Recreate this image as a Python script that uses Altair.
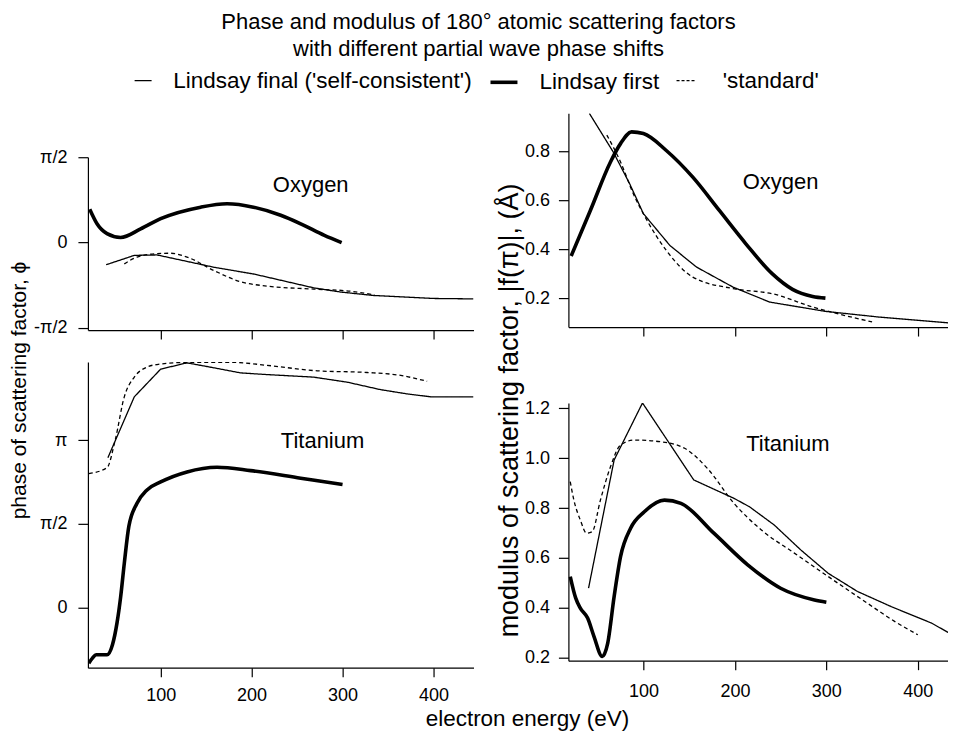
import altair as alt
import pandas as pd

FONT = "Liberation Sans"
SERIES = ["Lindsay final ('self-consistent')", "Lindsay first", "'standard'"]

TITLE_LINES = ["Phase and modulus of 180° atomic scattering factors",
               "with different partial wave  phase shifts"]
X_TITLE = "electron energy (eV)"
PHASE_TITLE = "phase of scattering factor, ϕ"
MOD_TITLE = "modulus of scattering factor, |f(π)|, (Å)"
X_TICKS = [100, 200, 300, 400]

# ---------------- Oxygen, phase (in units of pi/2) ----------------
O_PH_FINAL_E = [40, 71, 96, 159, 203, 268, 298, 334, 400, 444]
O_PH_FINAL_V = [-0.26, -0.15, -0.145, -0.29, -0.37, -0.53, -0.58, -0.62, -0.655, -0.66]
O_PH_FIRST_E = [22, 30, 41, 56, 78, 100, 144, 173, 202, 232, 254, 280, 299]
O_PH_FIRST_V = [0.39, 0.22, 0.105, 0.06, 0.16, 0.28, 0.415, 0.455, 0.415, 0.32, 0.22, 0.085, 0.0]
O_PH_STD_E = [60, 74, 96, 111, 129, 159, 188, 217, 268, 309, 335]
O_PH_STD_V = [-0.25, -0.17, -0.13, -0.125, -0.17, -0.33, -0.46, -0.51, -0.545, -0.57, -0.615]

# ---------------- Titanium, phase (in units of pi/2) ----------------
TI_PH_FINAL_E = [42, 71, 100, 129, 159, 188, 217, 268, 305, 342, 371, 397, 444]
TI_PH_FINAL_V = [1.79, 2.515, 2.845, 2.92, 2.86, 2.8, 2.78, 2.75, 2.69, 2.6, 2.55, 2.515, 2.515]
TI_PH_FIRST_E = [21, 25, 29, 41, 47, 52, 56, 60, 65, 74, 85, 100, 129, 162, 199, 254, 300]
TI_PH_FIRST_V = [-0.66, -0.6, -0.56, -0.56, -0.44, -0.18, 0.13, 0.53, 0.97, 1.245, 1.405,
                 1.5, 1.62, 1.675, 1.635, 1.545, 1.47]
TI_PH_STD_E = [21, 41, 50, 60, 71, 85, 96, 129, 180, 217, 272, 327, 364, 393]
TI_PH_STD_V = [1.6, 1.67, 2.0, 2.515, 2.75, 2.87, 2.9, 2.925, 2.925, 2.89, 2.825, 2.805, 2.77, 2.7]

# ---------------- Oxygen, modulus (Angstrom) ----------------
O_MOD_FINAL_E = [41, 67, 85, 100, 129, 158, 198, 238, 299, 357, 440]
O_MOD_FINAL_V = [0.955, 0.798, 0.668, 0.546, 0.416, 0.328, 0.246, 0.185, 0.147, 0.124, 0.098]
O_MOD_FIRST_E = [21, 42, 64, 75, 87, 100, 125, 154, 183, 212, 241, 263, 285, 299]
O_MOD_FIRST_V = [0.373, 0.559, 0.757, 0.832, 0.88, 0.873, 0.804, 0.695, 0.559, 0.423,
                 0.30, 0.237, 0.208, 0.201]
O_MOD_STD_E = [60, 75, 89, 104, 125, 154, 198, 241, 285, 350]
O_MOD_STD_V = [0.867, 0.757, 0.627, 0.518, 0.396, 0.287, 0.24, 0.219, 0.165, 0.104]

# ---------------- Titanium, modulus (Angstrom) ----------------
TI_MOD_FINAL_E = [40, 68, 99, 155, 199, 216, 243, 272, 302, 334, 371, 415, 444]
TI_MOD_FINAL_V = [0.478, 0.993, 1.222, 0.913, 0.839, 0.805, 0.732, 0.632, 0.538, 0.465,
                  0.404, 0.338, 0.278]
TI_MOD_FIRST_E = [20, 26, 31, 39, 46, 55, 61, 68, 75, 86, 101, 123, 141, 177, 214, 250, 287, 300]
TI_MOD_FIRST_V = [0.525, 0.438, 0.398, 0.358, 0.284, 0.204, 0.258, 0.445, 0.605, 0.719,
                  0.785, 0.832, 0.819, 0.699, 0.572, 0.478, 0.431, 0.422]
TI_MOD_STD_E = [20, 24, 31, 38, 44, 53, 64, 75, 90, 119, 145, 170, 199, 229, 265, 302, 342, 375, 400]
TI_MOD_STD_V = [0.906, 0.832, 0.752, 0.699, 0.705, 0.832, 0.966, 1.053, 1.073, 1.066, 1.04,
                0.959, 0.819, 0.712, 0.619, 0.525, 0.425, 0.344, 0.291]

# panel labels: (text, energy, value)
LABEL_O_PH = ("Oxygen", 265, 0.67)
LABEL_TI_PH = ("Titanium", 278, 1.99)
LABEL_O_MOD = ("Oxygen", 250, 0.675)
LABEL_TI_MOD = ("Titanium", 258, 1.057)


def long_df(final_e, final_v, first_e, first_v, std_e, std_v):
    rows = []
    for name, es, vs in [(SERIES[0], final_e, final_v), (SERIES[1], first_e, first_v),
                         (SERIES[2], std_e, std_v)]:
        for e, v in zip(es, vs):
            rows.append({"E": e, "v": v, "series": name})
    return pd.DataFrame(rows)


def legend(x, y, **kw):
    return alt.Legend(orient="none", legendX=x, legendY=y, title=None,
                      labelFont=FONT, labelFontSize=22.5, labelColor="black", labelLimit=500,
                      symbolType="stroke", symbolStrokeColor="black", **kw)


# one legend entry per line style (thin solid, thick solid, thin dashed)
ENC_FINAL = alt.StrokeDash("series:N", scale=alt.Scale(domain=[SERIES[0]], range=[[1, 0]]),
                           legend=legend(44, -44, symbolSize=289, symbolStrokeWidth=1.3,
                                         labelOffset=19))
ENC_FIRST = alt.StrokeWidth("series:N", scale=alt.Scale(domain=[SERIES[1]], range=[3.6, 3.6]),
                            legend=legend(401, -46.5, symbolSize=729, labelOffset=20))
ENC_STD = alt.Opacity("series:N", scale=alt.Scale(domain=[SERIES[2]], range=[1, 1]),
                      legend=legend(588, -44, symbolSize=400, symbolStrokeWidth=1.3,
                                    symbolDash=[3, 2], labelOffset=25))

PHASE_EXPR = ("datum.value == 1 ? 'π/2' : datum.value == 2 ? 'π' : "
              "datum.value == -1 ? '-π/2' : '0'")


def panel(df, label, xdom, ydom, xaxis, yaxis, width, height):
    X = alt.X("E:Q", scale=alt.Scale(domain=xdom, nice=False, zero=False), axis=xaxis)
    Y = alt.Y("v:Q", scale=alt.Scale(domain=ydom, nice=False, zero=False), axis=yaxis)
    final = (alt.Chart(df).transform_filter(alt.datum.series == SERIES[0])
             .mark_line(color="black", strokeWidth=1.3, clip=True)
             .encode(x=X, y=Y, strokeDash=ENC_FINAL))
    first = (alt.Chart(df).transform_filter(alt.datum.series == SERIES[1])
             .mark_line(color="black", interpolate="monotone", clip=True)
             .encode(x=X, y=Y, strokeWidth=ENC_FIRST))
    std = (alt.Chart(df).transform_filter(alt.datum.series == SERIES[2])
           .mark_line(color="black", strokeWidth=1.3, strokeDash=[4, 3],
                      interpolate="monotone", clip=True)
           .encode(x=X, y=Y, opacity=ENC_STD))
    lab_df = pd.DataFrame({"t": [label[0]], "E": [label[1]], "v": [label[2]]})
    text = (alt.Chart(lab_df).mark_text(font=FONT, fontSize=22, color="black")
            .encode(x=X, y=Y, text="t:N"))
    return alt.layer(final, first, std, text).properties(width=width, height=height)


LEFT_XDOM = [20, 444]
RIGHT_XDOM = [18, 433]

x_top_left = alt.Axis(values=X_TICKS, labels=False, title=None)
x_bot_left = alt.Axis(values=X_TICKS, title=None, labelPadding=10)
x_top_right = alt.Axis(values=X_TICKS, labels=False, title=None)
x_bot_right = alt.Axis(values=X_TICKS, title=None, labelPadding=13)

y_tl = alt.Axis(values=[-1, 0, 1], labelExpr=PHASE_EXPR, title=None, labelPadding=11)
y_bl = alt.Axis(values=[0, 1, 2], labelExpr=PHASE_EXPR, title=PHASE_TITLE,
                titleX=-58, titleY=28, titleFontSize=21, titleAngle=270,
                titleBaseline="bottom", titleAlign="center", labelPadding=11)
y_tr = alt.Axis(values=[0.2, 0.4, 0.6, 0.8], format=".1f", title=None, labelPadding=9)
y_br = alt.Axis(values=[0.2, 0.4, 0.6, 0.8, 1.0, 1.2], format=".1f", title=MOD_TITLE,
                titleX=-45, titleY=7, titleFontSize=27, titleAngle=270,
                titleBaseline="bottom", titleAlign="center", labelPadding=9)

tl = panel(long_df(O_PH_FINAL_E, O_PH_FINAL_V, O_PH_FIRST_E, O_PH_FIRST_V, O_PH_STD_E, O_PH_STD_V),
           LABEL_O_PH, LEFT_XDOM, [-1.025, 1.0], x_top_left, y_tl, 386, 173)
bl = panel(long_df(TI_PH_FINAL_E, TI_PH_FINAL_V, TI_PH_FIRST_E, TI_PH_FIRST_V, TI_PH_STD_E, TI_PH_STD_V),
           LABEL_TI_PH, LEFT_XDOM, [-0.714, 2.93], x_bot_left, y_bl, 386, 306)
tr = panel(long_df(O_MOD_FINAL_E, O_MOD_FINAL_V, O_MOD_FIRST_E, O_MOD_FIRST_V, O_MOD_STD_E, O_MOD_STD_V),
           LABEL_O_MOD, RIGHT_XDOM, [0.083, 0.956], x_top_right, y_tr, 380, 214)
br = panel(long_df(TI_MOD_FINAL_E, TI_MOD_FINAL_V, TI_MOD_FIRST_E, TI_MOD_FIRST_V, TI_MOD_STD_E, TI_MOD_STD_V),
           LABEL_TI_MOD, RIGHT_XDOM, [0.187, 1.222], x_bot_right, y_br, 380, 258)

spacer = alt.Chart(pd.DataFrame({"a": [0]})).mark_point(opacity=0).properties(width=10, height=12)

left_col = alt.vconcat(spacer, tl, bl, spacing=32, bounds="flush")
right_col = alt.vconcat(tr, br, spacing=76, bounds="flush")

inner = alt.hconcat(
    left_col, right_col, spacing=21,
    title=alt.TitleParams(X_TITLE, orient="bottom", anchor="middle", dx=49, offset=3,
                          fontSize=22.5, font=FONT, fontWeight="normal", color="black"),
)

chart = alt.vconcat(
    inner,
    title=alt.TitleParams(TITLE_LINES, anchor="middle", fontSize=22, lineHeight=27, offset=6,
                          font=FONT, fontWeight="normal", color="black"),
).properties(
    padding={"top": 2, "left": 0, "right": 0, "bottom": 0}
).configure(font=FONT, background="white").configure_view(
    strokeWidth=0
).configure_axis(
    grid=False, domainColor="black", tickColor="black", labelColor="black",
    titleColor="black", labelFont=FONT, titleFont=FONT, labelFontSize=18,
    titleFontWeight="normal", domainWidth=1.2, tickWidth=1.2,
).configure_axisX(tickSize=9).configure_axisY(tickSize=10)

chart.save("out.html", embed_options={"renderer": "svg", "actions": False})
